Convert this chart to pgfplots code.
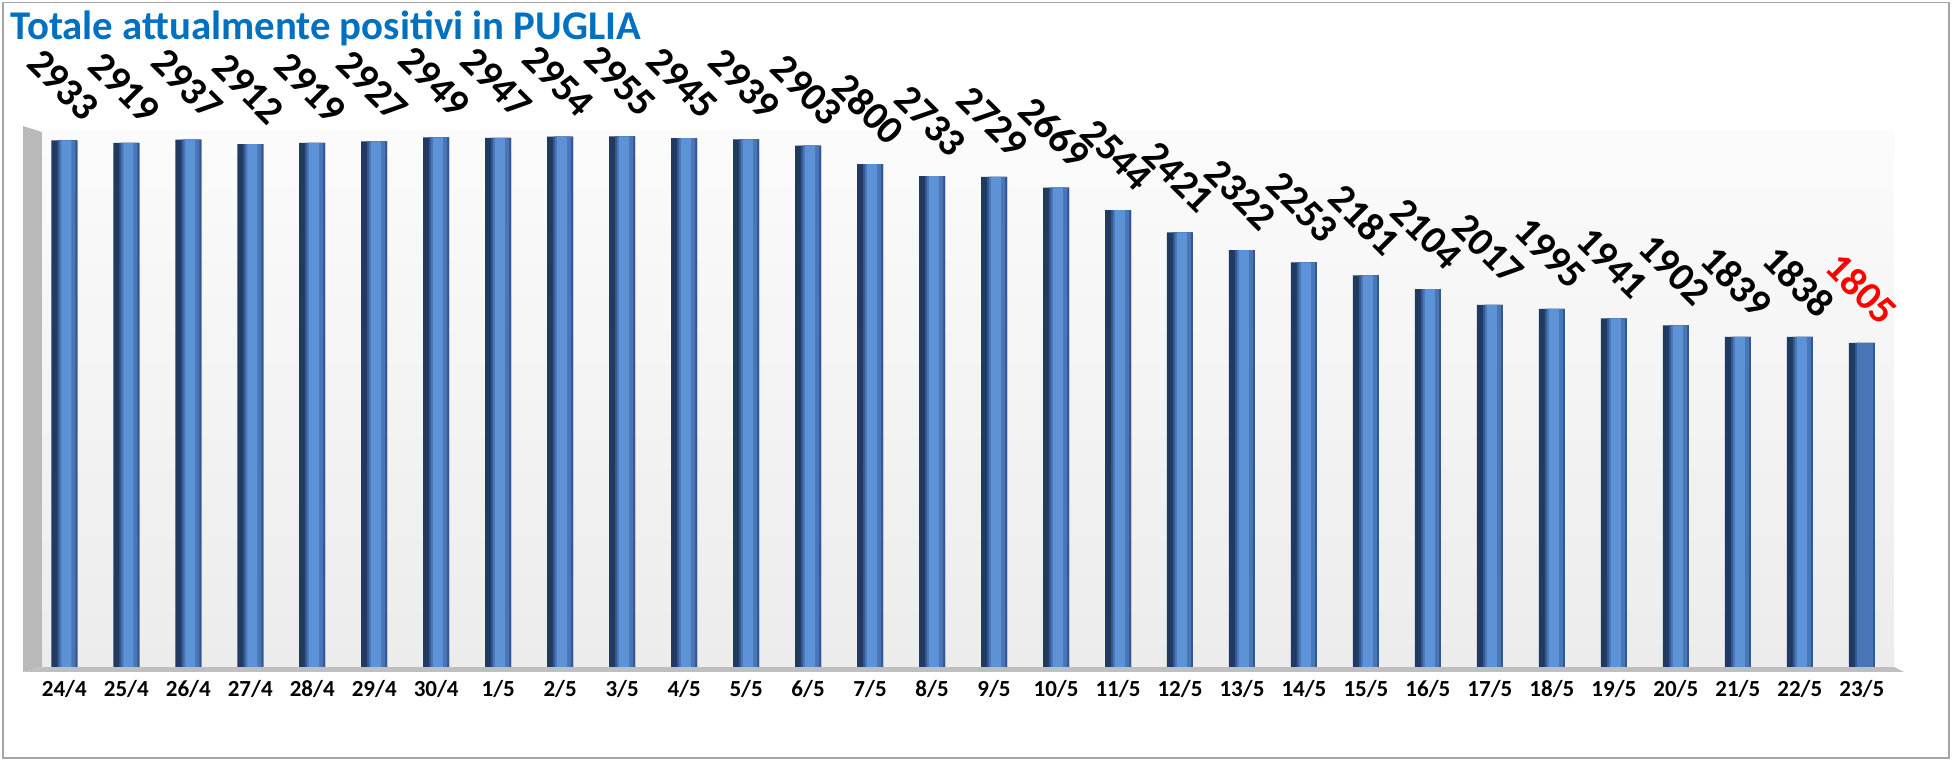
\documentclass[border=0pt]{standalone}
\usepackage{fontspec}
\setmainfont{Carlito}
\usepackage{pgfplots}
\pgfplotsset{compat=1.18}

\definecolor{titleblue}{RGB}{0,112,192}
\definecolor{bar1}{RGB}{32,58,98}
\definecolor{bar2}{RGB}{52,88,142}
\definecolor{bar3}{RGB}{72,118,182}
\definecolor{bar4}{RGB}{94,146,214}

\pgfplotstableread{
x y
0 2933
1 2919
2 2937
3 2912
4 2919
5 2927
6 2949
7 2947
8 2954
9 2955
10 2945
11 2939
12 2903
13 2800
14 2733
15 2729
16 2669
17 2544
18 2421
19 2322
20 2253
21 2181
22 2104
23 2017
24 1995
25 1941
26 1902
27 1839
28 1838
29 1805
}\datatable

\begin{document}
\begin{tikzpicture}
% page frame (1 px of the reference = 0.5pt)
\path (0pt,0pt) rectangle (977pt,-381.5pt);
\draw[gray!70, line width=0.8pt] (1.5pt,-1.2pt) rectangle (974.5pt,-379pt);

\node[anchor=base west, inner sep=0pt, text=titleblue,
      font=\bfseries\fontsize{20.4}{24}\selectfont] at (5pt,-20pt)
      {Totale attualmente positivi in PUGLIA};

% side wall and floor
\fill[gray!55] (11.5pt,-63pt) -- (21pt,-66pt) -- (21pt,-333.5pt) -- (11.5pt,-336pt) -- cycle;
\fill[gray!50] (11.5pt,-336pt) -- (21pt,-333.5pt) -- (947pt,-333.5pt) -- (952pt,-336pt) -- cycle;

\begin{axis}[
  at={(21pt,-333.5pt)}, anchor=south west,
  scale only axis,
  width=926pt, height=268pt,
  xmin=-0.36, xmax=29.52,
  ymin=0, ymax=2985,
  axis line style={draw=none},
  axis background/.style={shade, top color=gray!3, bottom color=gray!15},
  major tick length=0pt,
  ytick=\empty,
  xtick={0,...,29},
  xticklabels={24/4,25/4,26/4,27/4,28/4,29/4,30/4,1/5,2/5,3/5,4/5,5/5,6/5,7/5,8/5,9/5,10/5,11/5,12/5,13/5,14/5,15/5,16/5,17/5,18/5,19/5,20/5,21/5,22/5,23/5},
  xticklabel style={font=\bfseries\fontsize{11.5}{12}\selectfont, yshift=-3pt},
  clip=false,
  every axis plot/.append style={ybar, draw=none},
  /pgf/number format/assume math mode=true,
  /pgf/number format/1000 sep={},
  every node near coord/.append style={font=\bfseries\fontsize{20}{20}\selectfont, anchor=center, yshift=27pt, rotate=-45},
]
% cylinder look: stacked bands of one bar series
\addplot[fill=bar1, bar width=13pt, bar shift=0pt] table[x=x, y=y] {\datatable};
\addplot[fill=bar2, bar width=10pt, bar shift=1.5pt] table[x=x, y=y] {\datatable};
\addplot[fill=bar3, bar width=8pt, bar shift=1.5pt] table[x=x, y=y] {\datatable};
\addplot[fill=bar4, bar width=5pt, bar shift=1pt,
  nodes near coords,
  nodes near coords style={xshift=-1pt}]
  table[x=x, y=y, restrict expr to domain={\thisrow{x}}{0:28}] {\datatable};
\addplot[draw=none, fill=none, bar width=1pt, bar shift=0pt,
  nodes near coords, nodes near coords style={text=red}]
  table[x=x, y=y, restrict expr to domain={\thisrow{x}}{29:29}] {\datatable};
\end{axis}
\end{tikzpicture}
\end{document}
